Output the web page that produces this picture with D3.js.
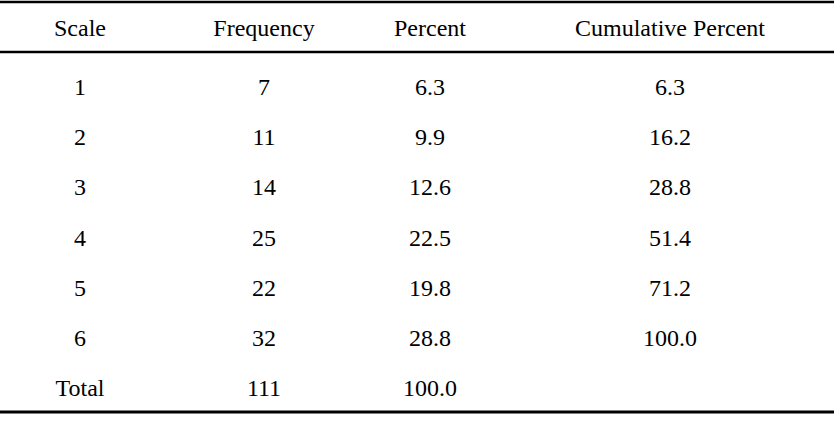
<!DOCTYPE html>
<html><head><meta charset="utf-8">
<script src="https://cdn.jsdelivr.net/npm/d3@7"></script>
<style>body{margin:0;background:#fff}</style>
</head><body>
<script>
const headers = ["Scale", "Frequency", "Percent", "Cumulative Percent"];
const scales = ["1", "2", "3", "4", "5", "6", "Total"];
const frequency = ["7", "11", "14", "25", "22", "32", "111"];
const percent = ["6.3", "9.9", "12.6", "22.5", "19.8", "28.8", "100.0"];
const cumulative = ["6.3", "16.2", "28.8", "51.4", "71.2", "100.0", ""];

const W = 834, H = 422;
const svg = d3.select("body").append("svg").attr("width", W).attr("height", H);

// column centres
const colX = {"Scale": 80, "Frequency": 264, "Percent": 430, "Cumulative Percent": 670};
const y = d3.scaleLinear().domain([0, 6]).range([87, 388]);

const font = "'Liberation Serif', 'Times New Roman', serif";

svg.selectAll("text.h").data(headers).join("text")
  .attr("x", d => colX[d]).attr("y", 28)
  .attr("text-anchor", "middle").attr("dominant-baseline", "central")
  .style("font-family", font).style("font-size", "24px").text(d => d);

const rows = scales.map((s, i) => [s, frequency[i], percent[i], cumulative[i]]);
rows.forEach((r, i) => {
  svg.selectAll("text.r" + i).data(r).join("text")
    .attr("x", (d, j) => colX[headers[j]]).attr("y", y(i))
    .attr("text-anchor", "middle").attr("dominant-baseline", "central")
    .style("font-family", font).style("font-size", "24px").text(d => d);
});

[[2, 2.5], [52, 2.5], [412, 3]].forEach(([yy, w]) => {
  svg.append("line").attr("x1", 0).attr("x2", W).attr("y1", yy).attr("y2", yy)
    .attr("stroke", "#000").attr("stroke-width", w);
});
</script>
</body></html>
